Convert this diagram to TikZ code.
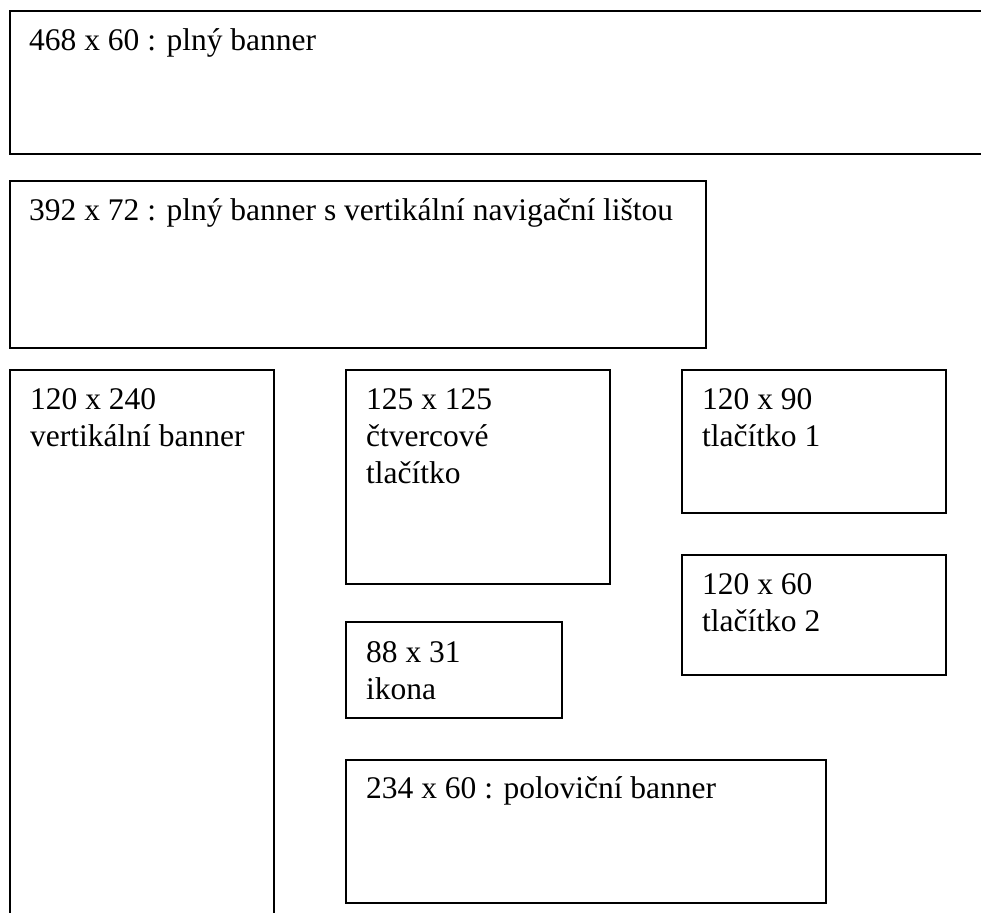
\documentclass[tikz,border=0pt]{standalone}
\usepackage{fontspec}
\setmainfont{Liberation Serif}
\usepackage{tikz}

\begin{document}
\begin{tikzpicture} [x=1pt, y=-1pt,
    box/.style = {draw, line width=1.6pt, inner sep=0pt, anchor=north west},
    lbl/.style = {anchor=base west, inner sep=0pt, align=left, font=\fontsize{31.5}{37}\selectfont}]
    \clip (0,0) rectangle (981,912);

    \node (b1) [box, minimum width=991pt, minimum height=143pt] at (9,10) {};
    \node (b2) [box, minimum width=696pt, minimum height=167pt] at (9,180) {};
    \node (b3) [box, minimum width=264pt, minimum height=581pt] at (9,369) {};
    \node (b4) [box, minimum width=264pt, minimum height=214pt] at (345,369) {};
    \node (b5) [box, minimum width=264pt, minimum height=143pt] at (681,369) {};
    \node (b6) [box, minimum width=264pt, minimum height=120pt] at (681,554) {};
    \node (b7) [box, minimum width=216pt, minimum height=96pt] at (345,621) {};
    \node (b8) [box, minimum width=480pt, minimum height=143pt] at (345,759) {};

    % base of a node with several lines is its last line
    \node (t1) [lbl] at ([shift={(20,41)}]b1.north west) {468 x 60 : plný banner};
    \node (t2) [lbl] at ([shift={(20,40)}]b2.north west) {392 x 72 : plný banner s vertikální navigační lištou};
    \node (t3) [lbl] at ([shift={(21,77)}]b3.north west) {120 x 240\\vertikální banner};
    \node (t4) [lbl] at ([shift={(21,114)}]b4.north west) {125 x 125\\čtvercové\\tlačítko};
    \node (t5) [lbl] at ([shift={(21,77)}]b5.north west) {120 x 90\\tlačítko 1};
    \node (t6) [lbl] at ([shift={(21,77)}]b6.north west) {120 x 60\\tlačítko 2};
    \node (t7) [lbl] at ([shift={(21,78)}]b7.north west) {88 x 31\\ikona};
    \node (t8) [lbl] at ([shift={(21,39)}]b8.north west) {234 x 60 : poloviční banner};
\end{tikzpicture}
\end{document}
